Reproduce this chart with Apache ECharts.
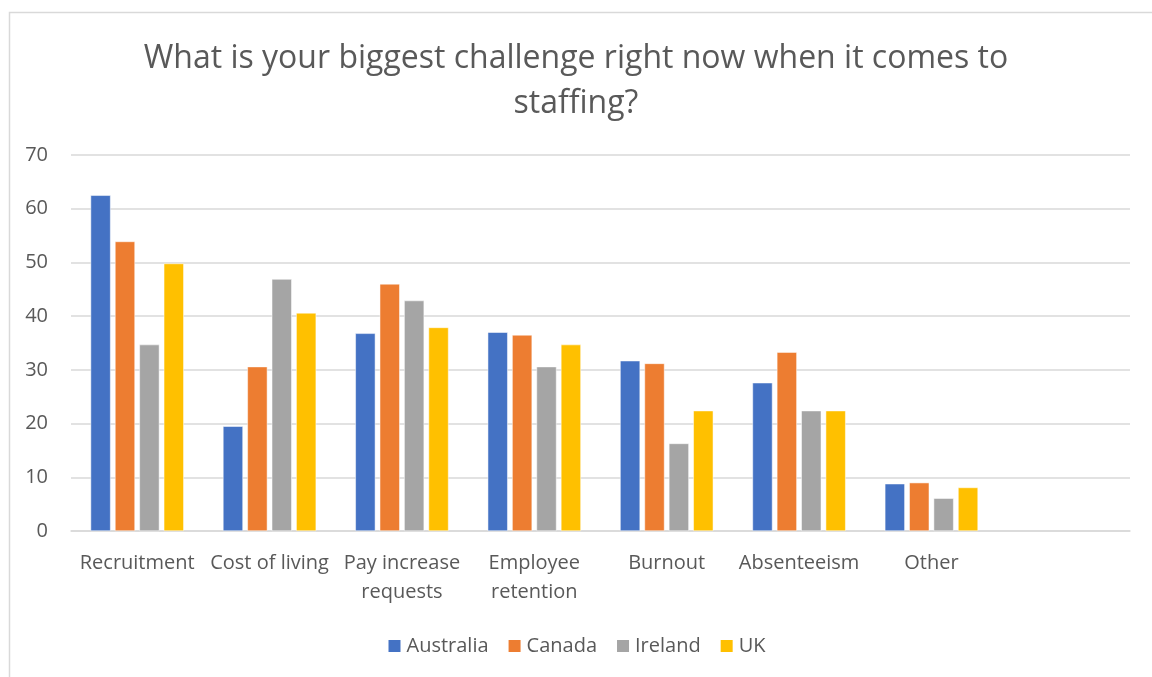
<!DOCTYPE html>
<html>
<head>
<meta charset="utf-8">
<script src="https://cdn.jsdelivr.net/npm/echarts@6/dist/echarts.min.js"></script>
<style>html,body{margin:0;padding:0;background:#fff}#c{width:1152px;height:677px}</style>
</head>
<body>
<div id="c"></div>
<script>
const titleText = 'What is your biggest challenge right now when it comes to\nstaffing?';
const categories = ['Recruitment', 'Cost of living', 'Pay increase\nrequests', 'Employee\nretention', 'Burnout', 'Absenteeism', 'Other', ''];
const seriesNames = ['Australia', 'Canada', 'Ireland', 'UK'];
const australia = [62.5, 19.5, 36.8, 37.0, 31.7, 27.6, 8.8, null];
const canada    = [53.9, 30.6, 46.0, 36.5, 31.2, 33.3, 9.0, null];
const ireland   = [34.7, 46.9, 42.9, 30.6, 16.3, 22.4, 6.1, null];
const uk        = [49.8, 40.6, 37.9, 34.7, 22.4, 22.4, 8.1, null];
const yTicks = { min: 0, max: 70, interval: 10 };
const colors = ['#4472C4', '#ED7D31', '#A5A5A5', '#FFC000'];

const font = '"Open Sans", "Noto Sans", sans-serif';
const values = [australia, canada, ireland, uk];
const chart = echarts.init(document.getElementById('c'), null, { renderer: 'canvas' });
chart.setOption({
  animation: false,
  backgroundColor: '#fff',
  color: colors,
  graphic: [{
    type: 'rect', left: 7, top: 10, shape: { width: 1160, height: 700 },
    style: { fill: 'none', stroke: '#d9d9d9', lineWidth: 1.5 }, silent: true
  }],
  title: {
    text: titleText, left: 'center', top: 31,
    textStyle: { fontFamily: font, fontSize: 32, fontWeight: 'normal', color: '#595959', lineHeight: 45 }
  },
  legend: {
    top: 631, left: 'center', itemWidth: 14, itemHeight: 14, itemGap: 18,
    icon: 'rect',
    textStyle: { fontFamily: font, fontSize: 20, color: '#595959' },
    data: seriesNames
  },
  grid: { left: 71, right: 22, top: 155, bottom: 146, containLabel: false },
  xAxis: {
    type: 'category', data: categories,
    axisLine: { lineStyle: { color: '#d9d9d9', width: 1.5 } },
    axisTick: { show: false },
    axisLabel: { fontFamily: font, fontSize: 20, color: '#595959', margin: 18, lineHeight: 29, interval: 0 }
  },
  yAxis: {
    type: 'value', min: yTicks.min, max: yTicks.max, interval: yTicks.interval,
    axisLine: { show: false }, axisTick: { show: false },
    splitLine: { lineStyle: { color: '#d9d9d9', width: 1.5 } },
    axisLabel: { fontFamily: font, fontSize: 20, color: '#595959', margin: 23 }
  },
  series: seriesNames.map((n, i) => ({
    name: n, type: 'bar', data: values[i],
    barWidth: 20, barGap: '22%',
    itemStyle: { color: colors[i], borderColor: '#fff', borderWidth: 0.5 }
  }))
});
</script>
</body>
</html>
